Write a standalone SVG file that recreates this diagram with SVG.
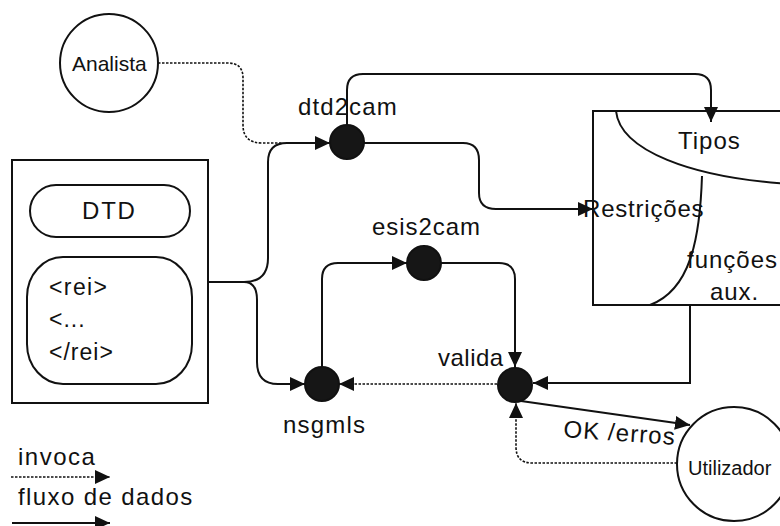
<svg xmlns="http://www.w3.org/2000/svg" width="780" height="526" viewBox="0 0 780 526">
<style>
text{font-family:"Liberation Sans",Arial,sans-serif;font-size:24px;letter-spacing:1px;fill:#111}
.ln{fill:none;stroke:#111;stroke-width:2}
.dt{fill:none;stroke:#111;stroke-width:1.6;stroke-dasharray:2.5,1.5}
.sh{fill:#fff;stroke:#111;stroke-width:2}
.proc{fill:#161616;stroke:#111;stroke-width:2}
</style>
<defs>
<marker id="ah" markerWidth="16" markerHeight="14" refX="15" refY="7" orient="auto" markerUnits="userSpaceOnUse">
<path d="M0,0 L15,7 L0,14 Z" fill="#111"/>
</marker>
</defs>
<rect width="780" height="526" fill="#fff"/>

<g id="analista">
<circle class="sh" cx="109" cy="63" r="49"/>
<text x="72" y="71" style="font-size:21px;letter-spacing:0">Analista</text>
</g>

<g id="fonte">
<rect class="sh" x="12" y="160" width="196" height="243"/>
<rect class="sh" x="30" y="185" width="160" height="52" rx="26"/>
<text x="82" y="219" style="letter-spacing:1.8px">DTD</text>
<rect class="sh" x="27" y="257" width="165" height="127" rx="36" ry="40"/>
<text x="49" y="295" style="font-size:23px;letter-spacing:1.4px">&lt;rei&gt;</text>
<text x="49" y="327" style="font-size:23px">&lt;...</text>
<text x="49" y="360" style="font-size:23px">&lt;/rei&gt;</text>
</g>

<g id="cam">
<path class="sh" d="M792,111 H593 V305 H792"/>
<path class="ln" d="M616,111 C620,150 690,178 792,184"/>
<path class="ln" d="M702,176 C700,240 690,290 650,305"/>
<text x="678" y="149">Tipos</text>
<text x="583" y="217" style="letter-spacing:0.8px">Restrições</text>
<text x="687" y="268">funções</text>
<text x="710" y="300" style="letter-spacing:0.9px">aux.</text>
</g>

<g id="dtd2cam">
<circle class="proc" cx="347" cy="142" r="17"/>
<text x="298" y="115" style="letter-spacing:1.1px">dtd2cam</text>
</g>

<g id="esis2cam">
<circle class="proc" cx="424" cy="263" r="17"/>
<text x="372" y="235" style="letter-spacing:0.95px">esis2cam</text>
</g>

<g id="nsgmls">
<circle class="proc" cx="322" cy="384" r="17"/>
<text x="283" y="433" style="letter-spacing:1.2px">nsgmls</text>
</g>

<g id="valida">
<circle class="proc" cx="515" cy="385" r="17"/>
<text x="438" y="366" style="letter-spacing:0.5px">valida</text>
</g>

<g id="utilizador">
<circle class="sh" cx="734" cy="464" r="57"/>
<text x="688" y="475" style="font-size:20px;letter-spacing:0">Utilizador</text>
</g>

<g id="connectors">
<path class="dt" d="M158,63 H228 Q243,63 243,78 V125 Q243,143 262,143 H282"/>
<path class="ln" d="M208,282 H244 Q268,282 268,258 V162 Q268,143 287,143 H330" marker-end="url(#ah)"/>
<path class="ln" d="M244,282 Q257,282 257,300 V362 Q257,384 278,384 H305" marker-end="url(#ah)"/>
<path class="ln" d="M347,125 V90 Q347,74 363,74 H695 Q711,74 711,90 V122" marker-end="url(#ah)"/>
<path class="ln" d="M364,143 H463 Q479,143 479,160 V193 Q479,209 496,209 H593" marker-end="url(#ah)"/>
<path class="ln" d="M322,367 V279 Q322,263 338,263 H407" marker-end="url(#ah)"/>
<path class="ln" d="M441,263 H499 Q515,263 515,279 V367" marker-end="url(#ah)"/>
<path class="ln" d="M690,305 V383 H533" marker-end="url(#ah)"/>
<path class="dt" d="M497,384 H339" marker-end="url(#ah)"/>
<path class="ln" d="M521,401 L690,425" marker-end="url(#ah)"/>
<path class="dt" d="M677,463 H532 Q516,463 516,447 V403" marker-end="url(#ah)"/>
<text x="563" y="437" transform="rotate(4 563 437)" style="letter-spacing:1.1px">OK /erros</text>
</g>

<g id="legenda">
<text x="18" y="465" style="letter-spacing:1.5px">invoca</text>
<path class="dt" d="M11,477 H110" marker-end="url(#ah)"/>
<text x="18" y="505" style="letter-spacing:1.4px">fluxo de dados</text>
<path class="ln" d="M12,523 H110" marker-end="url(#ah)"/>
</g>
</svg>
